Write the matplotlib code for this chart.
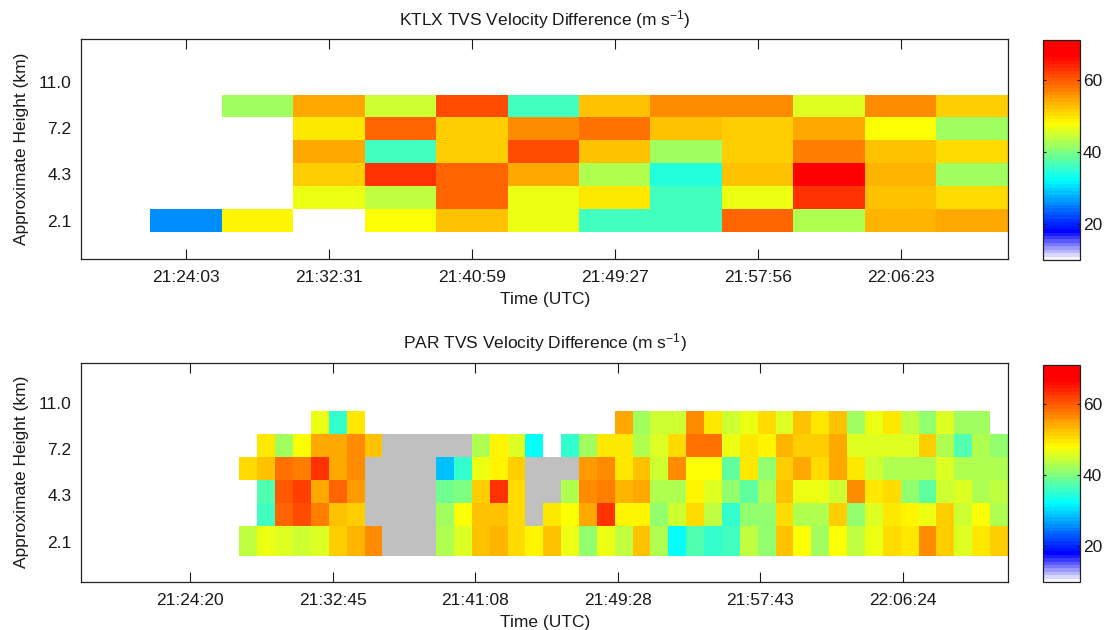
import numpy as np
import matplotlib
matplotlib.use("Agg")
import matplotlib.pyplot as plt
from matplotlib.colors import LinearSegmentedColormap, ListedColormap

plt.rcParams['font.family'] = ['Liberation Sans', 'DejaVu Sans']
plt.rcParams['mathtext.default'] = 'regular'

nan = np.nan
GRAY = -1.0  # cells drawn in gray (no valid detection)

# ---------------- KTLX (top) ----------------
ktlx_times = ["21:24:03", "21:32:31", "21:40:59", "21:49:27", "21:57:56", "22:06:23"]
height_labels = ["2.1", "4.3", "7.2", "11.0"]
ktlx_row1 = [26.0, 48.5, nan, 48.0, 52.5, 46.5, 36.4, 35.8, 58.8, 42.7, 53.2, 54.7]
ktlx_row2 = [nan, nan, 46.8, 44.0, 58.8, 47.0, 50.0, 35.8, 47.0, 62.5, 52.8, 50.2]
ktlx_row3 = [nan, nan, 51.0, 62.5, 58.8, 54.0, 42.7, 34.0, 52.5, 67.0, 53.6, 42.0]
ktlx_row4 = [nan, nan, 54.3, 35.8, 51.7, 61.4, 52.0, 42.0, 51.4, 57.3, 52.5, 50.2]
ktlx_row5 = [nan, nan, 50.0, 58.8, 51.7, 56.6, 58.0, 52.0, 51.4, 54.3, 48.0, 42.0]
ktlx_row6 = [nan, 42.0, 54.0, 44.5, 61.0, 35.8, 52.0, 55.8, 56.6, 45.8, 56.6, 51.4]

# ---------------- PAR (bottom) ----------------
par_times = ["21:24:20", "21:32:45", "21:41:08", "21:49:28", "21:57:43", "22:06:24"]
G = GRAY
par_row1 = [44, 47, 45.5, 45.2, 45.8, 51, 53.2, 55.8, G, G, G, 42.7, 45.5, 52.5, 53.6, 50.2,
            49, 52, 46.5, 41.4, 47, 44, 52.8, 42.7, 32, 37, 35, 36.4, 44, 40.8, 52.5, 48,
            42, 48, 44, 46.5, 50.7, 49.6, 56.6, 51.4, 46, 50, 51.7]
par_row2 = [nan, 35.8, 58.8, 60.7, 57, 52.5, 51.4, G, G, G, G, 42, 47.4, 52.5, 52, 50.2,
            G, 49.6, 48, 54.7, 63.3, 48.3, 48.3, 40.8, 45, 50.2, 44, 35, 41, 41.4, 50.7, 42.7,
            42.7, 51.4, 40.8, 45.5, 50, 48.3, 46.5, 51.4, 44.5, 47.7, 43.3]
par_row3 = [nan, 37, 60, 62.2, 54, 59.5, 55.5, G, G, G, G, 39, 40, 51, 63.3, 50.2,
            G, G, 43.3, 56.2, 57.3, 53.6, 54.3, 42.7, 43.3, 48.8, 45.8, 41.4, 37.7, 42.7, 52.8, 47,
            47, 44.5, 55.8, 49.6, 50.7, 41.4, 37.7, 44.5, 46, 42.7, 44]
par_row4 = [50.7, 52, 58, 57, 62.5, 54.7, 56, G, G, G, G, 28.6, 35, 47, 49, 51.4,
            G, G, G, 55, 55.8, 49.6, 52.5, 45, 55.8, 48, 48, 38.3, 49.6, 41.4, 51.7, 54,
            50.2, 54.3, 50, 44.5, 43.3, 43.3, 43.3, 46, 43.3, 43.3, 43.3]
par_row5 = [nan, 50, 42, 48, 54, 54.7, 56.6, 52.5, G, G, G, G, G, 42.7, 48.3, 45.8,
            32.5, nan, 35, 41.5, 49.6, 49.6, 42.7, 45.8, 50.7, 57.7, 57.7, 46.5, 50, 48.3, 53.6, 51.4,
            51.4, 54.3, 45.5, 45.5, 45.8, 46, 51.7, 43.3, 37, 42.7, 41.4]
par_row6 = [nan, nan, nan, nan, 47, 35, 50, nan, nan, nan, nan, nan, nan, nan, nan, nan,
            nan, nan, nan, nan, nan, 54, 41.5, 45, 45, 55.8, 50, 45, 47, 50.2, 45.5, 52,
            49.6, 52.5, 42, 47, 50, 44, 41.4, 46, 42, 42, nan]

# row boundaries (in height-index units) of the two grids
ktlx_row_edges = [0.52, 1.49, 2.5, 3.48, 4.48, 5.46, 6.42]
par_row_edges = [0.38, 1.69, 2.68, 3.68, 4.67, 5.67, 6.64]

# ---------------- colormap ----------------
base = LinearSegmentedColormap.from_list("vel", [
    (0.0, (0.97, 0.97, 1.0)),
    ((17.5 - 10) / 61, (0.0, 0.0, 1.0)),
    ((32 - 10) / 61, (0.0, 1.0, 1.0)),
    ((48 - 10) / 61, (1.0, 1.0, 0.0)),
    ((67 - 10) / 61, (1.0, 0.0, 0.0)),
    (1.0, (1.0, 0.0, 0.0)),
])
cmap = ListedColormap(base(np.linspace(0, 1, 64)))
VMIN, VMAX = 10, 71

TXT = '#1a1a1a'
FS = 12.5

fig = plt.figure(figsize=(11.09, 6.3), dpi=100)


def draw(ax, cax, rows, row_edges, title, tick_pos, tick_labels, xlim, ylim):
    data = np.array(rows, dtype=float)
    ncol = data.shape[1]
    xe = np.arange(ncol + 1)
    ye = np.array(row_edges)
    gray = np.ma.masked_where(data != GRAY, np.ones_like(data))
    vals = np.ma.masked_where(np.isnan(data) | (data == GRAY), data)
    ax.pcolormesh(xe, ye, gray, cmap=ListedColormap(['#c0c0c0']), vmin=0, vmax=2)
    m = ax.pcolormesh(xe, ye, vals, cmap=cmap, vmin=VMIN, vmax=VMAX)
    ax.set_xlim(*xlim)
    ax.set_ylim(*ylim)
    ax.set_xticks(tick_pos)
    ax.set_xticklabels(tick_labels)
    ax.set_yticks([1, 3, 5, 7])
    ax.set_yticklabels(height_labels)
    ax.tick_params(axis='x', direction='in', length=7.5, width=0.8, top=True,
                   labelsize=FS, pad=8, colors=TXT)
    ax.tick_params(axis='y', length=0, labelsize=FS, pad=7, colors=TXT)
    for s in ax.spines.values():
        s.set_linewidth(0.9)
        s.set_color('#222222')
    ax.set_xlabel('Time (UTC)', fontsize=FS, color=TXT, labelpad=5)
    ax.set_ylabel('Approximate Height (km)', fontsize=FS, color=TXT, labelpad=7)
    ax.set_title(title, fontsize=FS, color=TXT, pad=10)
    cb = fig.colorbar(m, cax=cax, ticks=[20, 40, 60])
    cb.outline.set_linewidth(0.9)
    cb.outline.set_edgecolor('#222222')
    cax.tick_params(direction='in', length=2.5, width=0.8, left=True, right=True,
                    labelsize=FS, pad=2, colors=TXT)


ax1 = fig.add_axes([0.0734, 0.5889, 0.8355, 0.3487])
cax1 = fig.add_axes([0.9408, 0.5873, 0.0331, 0.3492])
draw(ax1, cax1, [ktlx_row1, ktlx_row2, ktlx_row3, ktlx_row4, ktlx_row5, ktlx_row6],
     ktlx_row_edges, 'KTLX TVS Velocity Difference (m s$^{-1}$)',
     [0.5 + 2 * k for k in range(6)], ktlx_times, (-0.96, 12.0), (-0.65, 8.83))

ax2 = fig.add_axes([0.0734, 0.0767, 0.8355, 0.3476])
cax2 = fig.add_axes([0.9408, 0.0762, 0.0331, 0.3452])
draw(ax2, cax2, [par_row1, par_row2, par_row3, par_row4, par_row5, par_row6],
     par_row_edges, 'PAR TVS Velocity Difference (m s$^{-1}$)',
     [-2.77 + 7.98 * k for k in range(6)], par_times, (-8.84, 43.0), (-0.73, 8.73))

fig.savefig('out.png', dpi=100)
